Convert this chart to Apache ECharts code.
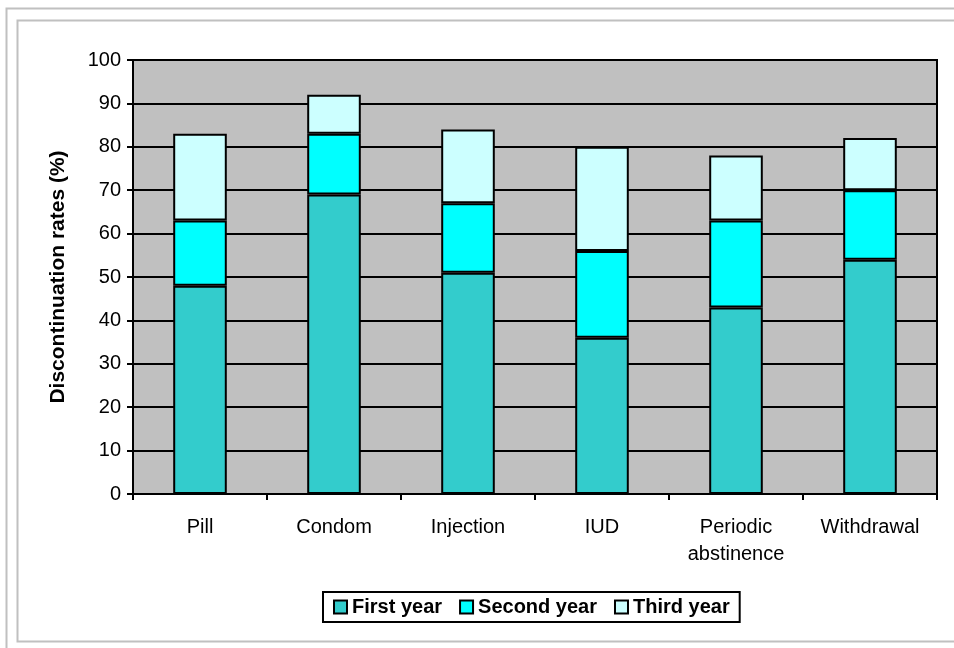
<!DOCTYPE html>
<html>
<head>
<meta charset="utf-8">
<script src="https://cdn.jsdelivr.net/npm/echarts@6/dist/echarts.min.js"></script>
<style>
  html, body { margin: 0; padding: 0; background: #fff; }
  #chart { width: 954px; height: 648px; }
</style>
</head>
<body>
<div id="chart"></div>
<script>
// data
const categories = ["Pill", "Condom", "Injection", "IUD", "Periodic\nabstinence", "Withdrawal"];
const firstYear = [48, 69, 51, 36, 43, 54];
const secondYear = [15, 14, 16, 20, 20, 16];
const thirdYear = [20, 9, 17, 24, 15, 12];
const yTicks = { min: 0, max: 100, interval: 10 };

const chartDom = document.getElementById("chart");
const myChart = echarts.init(chartDom);

const font = "'Liberation Sans', Arial, sans-serif";
function barSeries(name, data, color) {
  return {
    name: name,
    type: "bar",
    stack: "total",
    barWidth: "40%",
    data: data,
    itemStyle: { color: color, borderColor: "#000", borderWidth: 2 },
    animation: false
  };
}

const option = {
  animation: false,
  textStyle: { fontFamily: font },
  graphic: [
    { type: "rect", shape: { x: 6.5, y: 8.5, width: 1000, height: 1000 }, style: { fill: null, stroke: "#c0c0c0", lineWidth: 2 }, silent: true },
    { type: "rect", shape: { x: 17.5, y: 20.5, width: 1000, height: 621 }, style: { fill: null, stroke: "#c0c0c0", lineWidth: 2 }, silent: true }
  ],
  grid: {
    left: 133, right: 17, top: 60, bottom: 154,
    show: true, backgroundColor: "#c0c0c0", borderColor: "#000", borderWidth: 2
  },
  legend: {
    left: 323, top: 592,
    padding: [5, 10, 5, 10],
    borderColor: "#000", borderWidth: 2,
    itemGap: 17,
    itemWidth: 13, itemHeight: 13,
    icon: "rect",
    itemStyle: { borderColor: "#000", borderWidth: 2 },
    textStyle: { fontFamily: font, fontSize: 20, fontWeight: "bold", color: "#000" },
    data: ["First year", "Second year", "Third year"]
  },
  xAxis: {
    type: "category",
    data: categories,
    axisLine: { lineStyle: { color: "#000", width: 2 } },
    axisTick: { show: true, length: 6, lineStyle: { color: "#000", width: 2 } },
    axisLabel: { color: "#000", fontSize: 20, fontFamily: font, margin: 20, lineHeight: 27 }
  },
  yAxis: {
    type: "value",
    min: yTicks.min, max: yTicks.max, interval: yTicks.interval,
    name: "Discontinuation rates (%)",
    nameLocation: "middle",
    nameGap: 64,
    nameTextStyle: { color: "#000", fontSize: 21, fontWeight: "bold", fontFamily: font },
    axisLine: { show: true, lineStyle: { color: "#000", width: 2 } },
    axisTick: { show: true, length: 6, lineStyle: { color: "#000", width: 2 } },
    axisLabel: { color: "#000", fontSize: 20, fontFamily: font, margin: 12 },
    splitLine: { show: true, lineStyle: { color: "#000", width: 2 } }
  },
  series: [
    barSeries("First year", firstYear, "#33cccc"),
    barSeries("Second year", secondYear, "#00ffff"),
    barSeries("Third year", thirdYear, "#ccffff")
  ]
};

myChart.setOption(option);
</script>
</body>
</html>
